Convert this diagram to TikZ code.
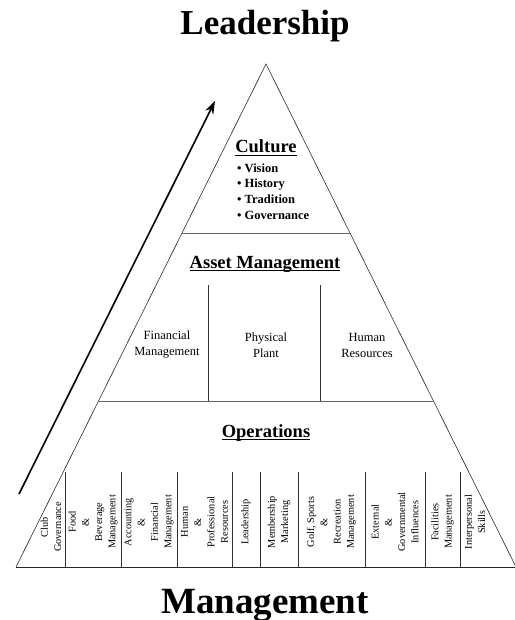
\documentclass[tikz,border=0pt]{standalone}
\usepackage{fontspec}
\setmainfont{Liberation Serif}
\usetikzlibrary{calc,arrows.meta}
\newcommand{\myul}[1]{\setbox0\hbox{#1}\rlap{\rule[-3pt]{\wd0}{1.1pt}}\box0}
\tikzset{
  edge/.style={line width=0.6pt, draw=black!85},
  divider/.style={line width=1pt, draw=black!60},
  tick/.style={line width=0.6pt, draw=black!80},
  bigtitle/.style={font=\fontsize{35}{40}\selectfont\bfseries, anchor=base},
  layertitle/.style={font=\fontsize{18.5}{22}\selectfont\bfseries, anchor=base},
  subitem/.style={font=\fontsize{12.5}{16}\selectfont, align=center},
  coltext/.style={font=\fontsize{10.3}{13.3}\selectfont, align=center, rotate=90, inner sep=0pt},
  bullet/.style={font=\fontsize{12.5}{15}\selectfont\bfseries, anchor=base west, inner sep=0pt}
}
\begin{document}
\begin{tikzpicture}[x=1pt,y=-1pt]
\useasboundingbox (0,0) rectangle (514,620);
% pyramid
\coordinate (A) at (266,64);
\coordinate (BL) at (16,567);
\coordinate (BR) at (516,567);
\draw[edge] (BL) -- (A) -- (BR);
\draw[edge] (BL) -- (BR);
\coordinate (c1l) at ($(A)!0.336!(BL)$);
\coordinate (c1r) at ($(A)!0.336!(BR)$);
\coordinate (c2l) at ($(A)!0.670!(BL)$);
\coordinate (c2r) at ($(A)!0.670!(BR)$);
\draw[divider] (c1l) -- (c1r);
\draw[divider] (c2l) -- (c2r);
% titles
\node[bigtitle] (lead) at (265,35) {Leadership};
\node[bigtitle, font=\fontsize{37}{42}\selectfont\bfseries] (mgmt) at (265,613) {Management};
% culture
\node[layertitle] (cult) at (266,153) {\myul{Culture}};
\node[bullet] (b1) at (237,173) {• Vision};
\node[bullet] (b2) at (237,188) {• History};
\node[bullet] (b3) at (237,203.5) {• Tradition};
\node[bullet] (b4) at (237,219) {• Governance};
% asset management
\node[layertitle] (asset) at (265,268) {\myul{Asset Management}};
\coordinate (v1t) at (208,285); \coordinate (v1b) at (208,401);
\coordinate (v2t) at (320,285); \coordinate (v2b) at (320,401);
\draw[tick] (v1t) -- (v1b);
\draw[tick] (v2t) -- (v2b);
\node[subitem] (fin) at (167,345) {Financial\\Management};
\node[subitem] (phy) at (266,345) {Physical\\Plant};
\node[subitem] (hum) at (367,345) {Human\\Resources};
% operations
\node[layertitle] (ops) at (266,437) {\myul{Operations}};
\foreach \x [count=\i] in {65,121,177,232,260,298,365,425,460}{
  \coordinate (t\i) at (\x,472);
  \coordinate (u\i) at (\x,567);
  \draw[tick] (t\i) -- (u\i);
}
\node[coltext] (o1) at (51,527) {Club\\Governance};
\node[coltext] (o2) at (93,522) {Food\\\&\\Beverage\\Management};
\node[coltext] (o3) at (149,522) {Accounting\\\&\\Financial\\Management};
\node[coltext] (o4) at (204.5,522) {Human\\\&\\Professional\\Resources};
\node[coltext] (o5) at (246,522) {Leadership};
\node[coltext] (o6) at (279,522) {Membership\\Marketing};
\node[coltext] (o7) at (331.5,522) {Golf, Sports\\\&\\Recreation\\Management};
\node[coltext] (o8) at (395,522) {External\\\&\\Governmental\\Influences};
\node[coltext] (o9) at (442.5,522) {Facilities\\Management};
\node[coltext] (o10) at (475,522) {Interpersonal\\Skills};
% arrow
\coordinate (ar0) at (19,494);
\coordinate (ar1) at (215,101);
\draw[line width=1.6pt, -{Stealth[length=13pt,width=9pt]}] (ar0) -- (ar1);
\end{tikzpicture}
\end{document}
